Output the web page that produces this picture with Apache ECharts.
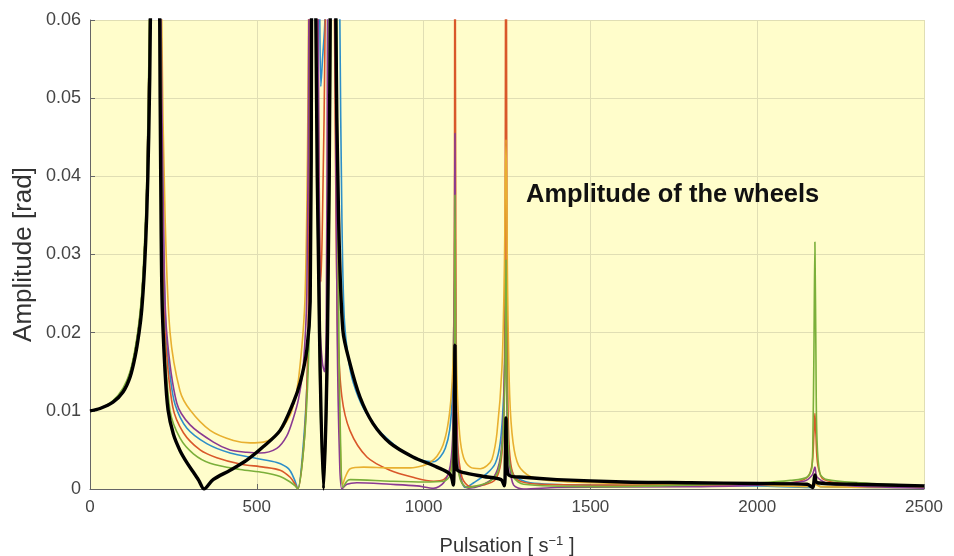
<!DOCTYPE html>
<html>
<head>
<meta charset="utf-8">
<script src="https://cdn.jsdelivr.net/npm/echarts/dist/echarts.min.js"></script>
<style>
  html, body { margin: 0; padding: 0; background: #fff; }
  #chart { width: 954px; height: 556px; }
</style>
</head>
<body>
<div id="chart"></div>
<script>
// pulsation [s^-1] vs amplitude [rad]
const blueCurve = [
  [0,0.0100],[30,0.0103],[69,0.0112],[99,0.0127],[120,0.0148],[135,0.0176],[147,0.0210],[155,0.0245],[163,0.030],[170,0.038],[175,0.050],[179,0.060],[194,0.2],[212,0.060],[220,0.032],[228,0.020],[240,0.0145],[255,0.0108],[290,0.0078],[350,0.0058],[420,0.0046],[500,0.0039],[560,0.0034],[595,0.0026],[613,0.0012],[623,0.0000],[640,0.0060],[652,0.0150],[660,0.0270],[665,0.060],[675,0.15],[688,0.065],[692,0.0515],[697,0.055],[704,0.060],[720,0.15],[740,0.12],[749,0.060],[755,0.035],[762,0.022],[775,0.0165],[790,0.0135],[820,0.0103],[860,0.0078],[900,0.0061],[950,0.0045],[1000,0.0036],[1030,0.0035],[1050,0.0041],[1065,0.0052],[1078,0.0075],[1086,0.0120],[1091,0.0220],[1094,0.0280],[1097,0.0120],[1102,0.0045],[1110,0.0016],[1125,0.0002],[1150,0.0008],[1190,0.0020],[1215,0.0033],[1230,0.0060],[1240,0.0120],[1245,0.0200],[1247,0.0250],[1250,0.0120],[1256,0.0045],[1270,0.0018],[1320,0.0008],[1500,0.0005],[2000,0.0004],[2160,0.0002],[2173,0.0010],[2190,0.0003],[2500,0.0002]
];
const orangeCurve = [
  [0,0.0100],[30,0.0103],[69,0.0112],[99,0.0127],[120,0.0148],[135,0.0176],[147,0.0210],[155,0.0245],[163,0.030],[170,0.038],[175,0.050],[179,0.060],[194,0.2],[211,0.060],[218,0.030],[225,0.020],[248,0.0105],[280,0.0072],[330,0.0050],[380,0.0040],[450,0.0032],[520,0.0028],[570,0.0024],[600,0.0015],[615,0.0006],[623,0.0000],[640,0.0050],[650,0.0130],[655,0.0250],[657,0.060],[668,0.2],[683,0.060],[688,0.035],[692,0.0265],[697,0.035],[705,0.060],[720,0.2],[733,0.060],[738,0.033],[743,0.0200],[755,0.0118],[779,0.0075],[830,0.0041],[899,0.0024],[968,0.0015],[1030,0.0010],[1060,0.0012],[1080,0.0025],[1088,0.0060],[1092,0.0200],[1094,0.1],[1097,0.0200],[1102,0.0060],[1115,0.0015],[1140,0.0003],[1180,0.0005],[1215,0.0012],[1232,0.0035],[1240,0.0090],[1244,0.0250],[1247,0.1],[1250,0.0250],[1254,0.0080],[1262,0.0030],[1280,0.0012],[1350,0.0006],[1600,0.0005],[1900,0.0005],[2100,0.0008],[2150,0.0015],[2164,0.0030],[2170,0.0070],[2173,0.0097],[2176,0.0070],[2182,0.0030],[2200,0.0012],[2300,0.0006],[2500,0.0003]
];
const yellowCurve = [
  [0,0.0100],[30,0.0103],[69,0.0112],[99,0.0127],[120,0.0148],[135,0.0176],[147,0.0210],[155,0.0245],[163,0.030],[170,0.038],[175,0.050],[179,0.060],[195,0.2],[215,0.060],[225,0.035],[240,0.0200],[270,0.0125],[300,0.0101],[360,0.0075],[430,0.0062],[480,0.0059],[520,0.0060],[550,0.0066],[580,0.0080],[605,0.0100],[625,0.0140],[645,0.0250],[655,0.060],[668,0.2],[684,0.090],[700,0.080],[720,0.2],[737,0.060],[742,0.0200],[750,0.0060],[757,0.0005],[765,0.0015],[780,0.0026],[820,0.0028],[900,0.0027],[960,0.0027],[1000,0.0030],[1019,0.0034],[1040,0.0042],[1058,0.0056],[1072,0.0080],[1082,0.0115],[1088,0.0160],[1092,0.0260],[1094,0.0370],[1096,0.0260],[1100,0.0140],[1108,0.0070],[1120,0.0040],[1140,0.0028],[1170,0.0026],[1190,0.0030],[1205,0.0038],[1220,0.0072],[1235,0.0156],[1242,0.0280],[1247,0.0447],[1252,0.0250],[1258,0.0120],[1268,0.0060],[1285,0.0030],[1320,0.0016],[1400,0.0010],[1600,0.0007],[2000,0.0005],[2150,0.0003],[2173,0.0006],[2190,0.0003],[2500,0.0002]
];
const purpleCurve = [
  [0,0.0100],[30,0.0103],[69,0.0112],[99,0.0127],[120,0.0148],[135,0.0176],[147,0.0210],[155,0.0245],[163,0.030],[170,0.038],[175,0.050],[179,0.060],[194,0.2],[213,0.060],[222,0.030],[230,0.0200],[260,0.0110],[300,0.0082],[370,0.0060],[420,0.0050],[470,0.0047],[510,0.0046],[560,0.0052],[590,0.0068],[609,0.0090],[625,0.0115],[639,0.0156],[650,0.0250],[656,0.060],[668,0.2],[684,0.060],[690,0.0205],[697,0.0160],[703,0.0150],[708,0.0200],[712,0.060],[725,0.2],[735,0.060],[741,0.0200],[748,0.0040],[755,0.0000],[770,0.0006],[800,0.0008],[900,0.0006],[980,0.0004],[1030,0.0001],[1060,0.0008],[1080,0.0030],[1088,0.0080],[1092,0.0250],[1094,0.0455],[1096,0.0200],[1102,0.0040],[1115,0.0008],[1135,0.0001],[1170,0.0004],[1210,0.0015],[1230,0.0040],[1240,0.0100],[1245,0.0200],[1247,0.0250],[1250,0.0100],[1258,0.0030],[1270,0.0005],[1300,0.0000],[1400,0.0002],[1800,0.0003],[2000,0.0005],[2140,0.0010],[2165,0.0018],[2173,0.0028],[2180,0.0015],[2220,0.0006],[2500,0.0001]
];
const greenCurve = [
  [0,0.0100],[30,0.0103],[69,0.0113],[99,0.0129],[120,0.0150],[135,0.0179],[147,0.0214],[155,0.0250],[163,0.031],[170,0.039],[175,0.051],[178,0.060],[193,0.2],[211,0.060],[216,0.030],[222,0.0200],[240,0.0100],[270,0.0065],[310,0.0045],[360,0.0033],[450,0.0025],[520,0.0021],[570,0.0016],[600,0.0009],[615,0.0004],[623,0.0000],[640,0.0050],[652,0.0130],[660,0.0260],[664,0.060],[670,0.2],[677,0.060],[688,0.0150],[700,0.0005],[712,0.0150],[722,0.060],[732,0.2],[740,0.060],[746,0.0200],[752,0.0040],[758,0.0002],[770,0.0010],[780,0.0012],[900,0.0010],[1000,0.0009],[1060,0.0010],[1080,0.0018],[1088,0.0050],[1092,0.0150],[1094,0.0376],[1096,0.0150],[1100,0.0040],[1110,0.0012],[1130,0.0002],[1160,0.0004],[1200,0.0010],[1225,0.0025],[1238,0.0070],[1244,0.0150],[1247,0.0293],[1250,0.0120],[1256,0.0040],[1270,0.0015],[1300,0.0006],[1500,0.0003],[1800,0.0005],[2008,0.0008],[2100,0.0011],[2149,0.0015],[2164,0.0028],[2167,0.0067],[2170,0.0174],[2173,0.0316],[2176,0.0174],[2179,0.0067],[2188,0.0020],[2209,0.0012],[2308,0.0008],[2500,0.0004]
];
const blackCurve = [
  [0,0.0100],[30,0.0103],[69,0.0111],[99,0.0124],[120,0.0143],[135,0.0169],[147,0.0200],[155,0.0229],[163,0.0280],[170,0.0350],[176,0.0450],[181,0.060],[195,0.2],[209,0.060],[212,0.040],[216,0.0242],[225,0.0150],[234,0.0101],[250,0.0070],[270,0.0049],[290,0.0034],[309,0.0022],[326,0.0011],[342,0.0000],[369,0.0012],[420,0.0024],[470,0.0037],[519,0.0054],[570,0.0075],[609,0.0110],[630,0.0136],[650,0.0178],[660,0.0240],[664,0.060],[670,0.2],[677,0.060],[688,0.0200],[700,0.0000],[712,0.0200],[720,0.060],[728,0.2],[737,0.060],[745,0.0350],[758,0.0203],[779,0.0161],[809,0.0118],[848,0.0084],[899,0.0059],[968,0.0041],[1040,0.0028],[1079,0.0019],[1089,0.0005],[1092,0.0080],[1094,0.0184],[1096,0.0050],[1100,0.0025],[1120,0.0021],[1180,0.0016],[1232,0.0012],[1242,0.0004],[1245,0.0040],[1247,0.0091],[1249,0.0040],[1255,0.0018],[1300,0.0015],[1400,0.0012],[1600,0.0009],[1800,0.0008],[2000,0.0007],[2150,0.0006],[2166,0.0002],[2173,0.0018],[2180,0.0008],[2300,0.0006],[2500,0.0004]
];

const chart = echarts.init(document.getElementById('chart'));
const font = 'Liberation Sans, Arial, sans-serif';

function curve(data, color, width) {
  return {
    type: 'line',
    data: data,
    showSymbol: false,
    clip: true,
    smooth: 0.3,
    lineStyle: {color: color, width: width},
    itemStyle: {color: color}
  };
}

chart.setOption({
  animation: false,
  backgroundColor: '#fff',
  title: {
    text: 'Amplitude of the wheels',
    left: 521,
    top: 177,
    textStyle: {fontFamily: font, fontWeight: 'bold', fontSize: 25.5, color: '#111'}
  },
  grid: {
    left: 90, right: 30, top: 20, bottom: 67,
    outerBoundsMode: 'none',
    containLabel: false,
    show: true, backgroundColor: '#FFFDCB', borderWidth: 0
  },
  xAxis: {
    type: 'value',
    min: 0, max: 2500, interval: 500,
    name: '{a|Pulsation [ s}{b|−1}{a| ]}',
    nameLocation: 'middle',
    nameGap: 46,
    nameMoveOverlap: false,
    nameTextStyle: {
      rich: {
        a: {fontFamily: font, fontSize: 20, color: '#333'},
        b: {fontFamily: font, fontSize: 13, color: '#333', padding: [0, 0, 10, 0]}
      }
    },
    axisLine: {show: true, lineStyle: {color: '#666', width: 1}},
    axisTick: {show: true, inside: true, length: 5, lineStyle: {color: '#666'}},
    axisLabel: {fontFamily: font, fontSize: 17, color: '#444', margin: 10, formatter: v => String(v)},
    splitLine: {show: true, lineStyle: {color: '#E0DEB4', width: 1}}
  },
  yAxis: {
    type: 'value',
    min: 0, max: 0.06, interval: 0.01,
    name: 'Amplitude [rad]',
    nameLocation: 'middle',
    nameGap: 53,
    nameMoveOverlap: false,
    nameTextStyle: {fontFamily: font, fontSize: 26, color: '#333'},
    axisLine: {show: true, lineStyle: {color: '#666', width: 1}},
    axisTick: {show: true, inside: true, length: 5, lineStyle: {color: '#666'}},
    axisLabel: {
      fontFamily: font, fontSize: 18, color: '#444', margin: 9,
      formatter: v => v === 0 ? '0' : v.toFixed(2)
    },
    splitLine: {show: true, lineStyle: {color: '#E0DEB4', width: 1}}
  },
  series: [
    curve(blueCurve, '#2E8FC8', 1.6),
    curve(orangeCurve, '#D9582A', 1.6),
    curve(yellowCurve, '#E8B030', 1.6),
    curve(purpleCurve, '#8A3A92', 1.6),
    curve(greenCurve, '#7BAF3A', 1.6),
    curve(blackCurve, '#000', 3.4)
  ]
});
</script>
</body>
</html>
